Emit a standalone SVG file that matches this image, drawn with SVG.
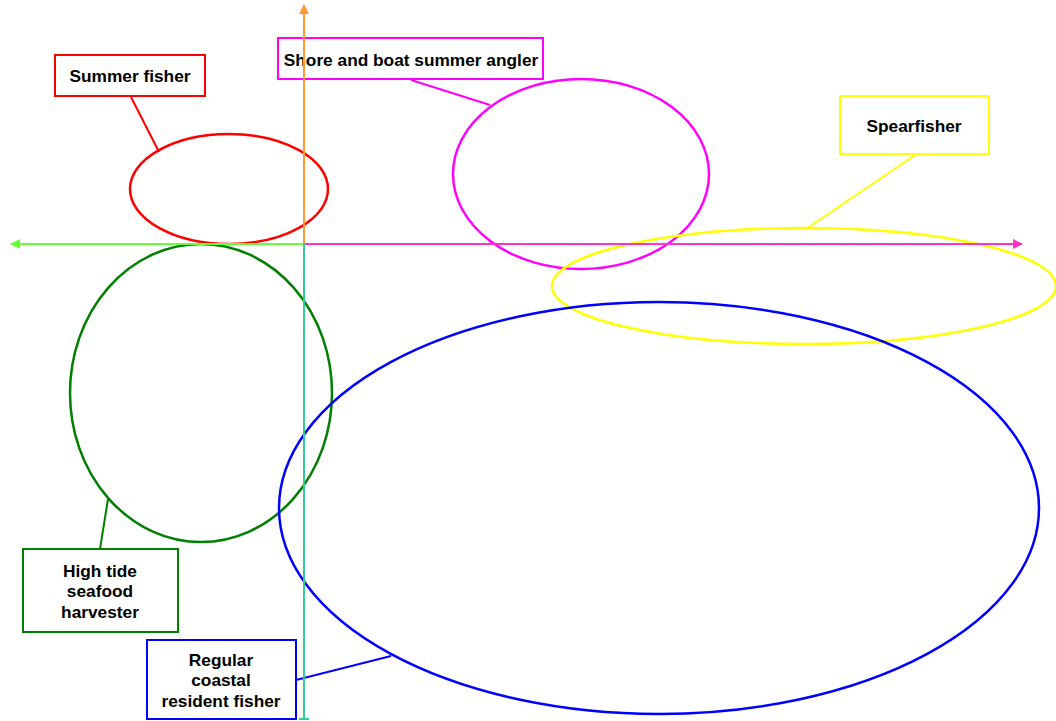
<svg xmlns="http://www.w3.org/2000/svg" width="1056" height="721" viewBox="0 0 1056 721">
<style>
text{font-family:"Liberation Sans",Arial,sans-serif;font-weight:bold;font-size:17.3px;fill:#000;text-anchor:middle}
.box{fill:none;stroke-width:2}
.ell{fill:none;stroke-width:2.5}
.ax{stroke-width:2;fill:none}
.ld{stroke-width:2;fill:none}
</style>
<defs>
<marker id="aG" markerWidth="10" markerHeight="10" refX="9" refY="5" orient="auto" markerUnits="userSpaceOnUse"><path d="M0,0 L10,5 L0,10 Z" fill="#66ff33"/></marker>
<marker id="aM" markerWidth="10" markerHeight="10" refX="9" refY="5" orient="auto" markerUnits="userSpaceOnUse"><path d="M0,0 L10,5 L0,10 Z" fill="#ff33cc"/></marker>
<marker id="aO" markerWidth="10" markerHeight="10" refX="9" refY="5" orient="auto" markerUnits="userSpaceOnUse"><path d="M0,0 L10,5 L0,10 Z" fill="#ff9933"/></marker>
<marker id="aT" markerWidth="10" markerHeight="10" refX="1" refY="5" orient="auto" markerUnits="userSpaceOnUse"><path d="M1,0 L1,10" stroke="#33cc99" stroke-width="2"/></marker>
</defs>
<g id="ellipses">
<ellipse id="e-summer" class="ell" cx="229" cy="189" rx="99" ry="55" stroke="#ff0000"/>
<ellipse id="e-shore" class="ell" cx="581" cy="174" rx="128" ry="95" stroke="#ff00ff"/>
<ellipse id="e-spear" class="ell" cx="804" cy="286" rx="252" ry="58" stroke="#ffff00"/>
<ellipse id="e-hightide" class="ell" cx="201" cy="393" rx="131" ry="149" stroke="#008000"/>
<ellipse id="e-regular" class="ell" cx="659" cy="508" rx="380" ry="206" stroke="#0000ff"/>
</g>
<g id="connectors">
<line class="ld" x1="131" y1="97" x2="159" y2="152" stroke="#ff0000"/>
<line class="ld" x1="411" y1="80" x2="490" y2="105" stroke="#ff00ff"/>
<line class="ld" x1="915" y1="155" x2="806" y2="229" stroke="#ffff00"/>
<line class="ld" x1="108" y1="499" x2="100" y2="549" stroke="#008000"/>
<line class="ld" x1="296" y1="680" x2="391" y2="656" stroke="#0000ff"/>
</g>
<g id="summer-fisher">
<rect class="box" x="55" y="55" width="150" height="41" stroke="#ff0000"/>
<text x="130" y="82">Summer fisher</text>
</g>
<g id="shore-angler">
<rect class="box" x="278" y="38" width="265" height="41" stroke="#ff00ff"/>
<text x="411" y="66">Shore and boat summer angler</text>
</g>
<g id="spearfisher">
<rect class="box" x="840" y="96" width="149" height="58" stroke="#ffff00"/>
<text x="914" y="132">Spearfisher</text>
</g>
<g id="high-tide">
<rect class="box" x="23" y="549" width="155" height="83" stroke="#008000"/>
<text x="100" y="577">High tide</text>
<text x="100" y="597">seafood</text>
<text x="100" y="618">harvester</text>
</g>
<g id="regular">
<rect class="box" x="147" y="640" width="149" height="79" stroke="#0000ff"/>
<text x="221" y="666">Regular</text>
<text x="221" y="686">coastal</text>
<text x="221" y="707">resident fisher</text>
</g>
<g id="axes">
<line class="ax" x1="304" y1="244" x2="11" y2="244" stroke="#66ff33" marker-end="url(#aG)"/>
<line class="ax" x1="304" y1="244" x2="1022" y2="244" stroke="#ff33cc" marker-end="url(#aM)"/>
<line class="ax" x1="304" y1="244" x2="304" y2="5" stroke="#ff9933" marker-end="url(#aO)"/>
<line class="ax" x1="304" y1="244" x2="304" y2="719" stroke="#33cc99" marker-end="url(#aT)"/>
</g>
</svg>
